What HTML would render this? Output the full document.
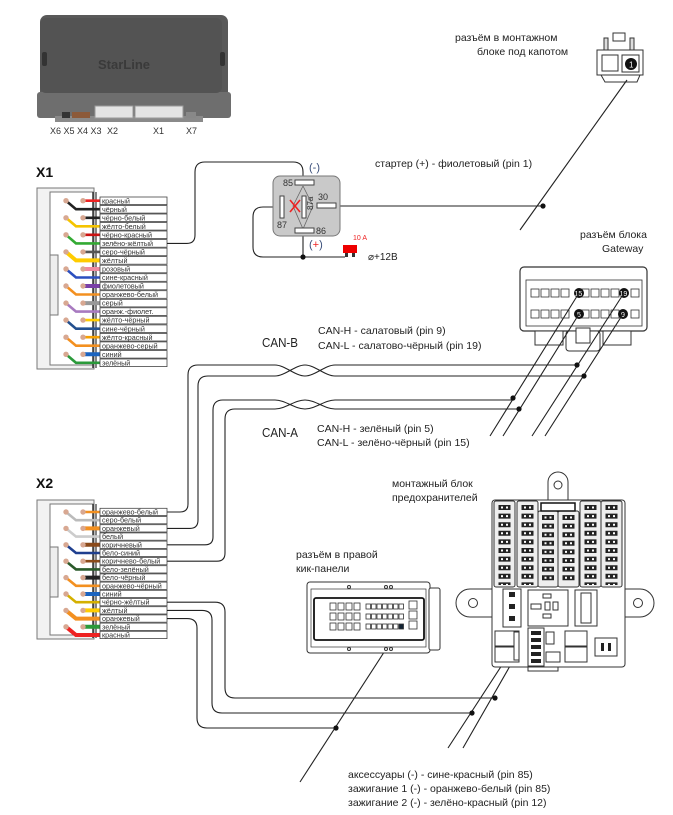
<!DOCTYPE html>
<html><head><meta charset="utf-8"><style>
html,body{margin:0;padding:0;background:#fff;}
svg{display:block;font-family:"Liberation Sans",sans-serif;}
.wl{font-size:7.2px;fill:#333;}
.lb{fill:#fff;stroke:#444;stroke-width:0.8;}
.w{fill:none;stroke:#222;stroke-width:1.1;}
.t{font-size:10.5px;fill:#222;}
.c{fill:#fff;stroke:#333;stroke-width:0.8;}
.fz{stroke:#222;stroke-width:12;stroke-dasharray:5 3.6;fill:none;}
.fd{stroke:#fff;stroke-width:2;stroke-dasharray:2 6.6;stroke-dashoffset:-1.5;fill:none;}
</style></head><body>
<svg width="673" height="815" viewBox="0 0 673 815" xmlns="http://www.w3.org/2000/svg">

<!-- Module -->
<rect x="40" y="15" width="188" height="85" rx="7" fill="#595959"/>
<rect x="37" y="92" width="194" height="26" rx="3" fill="#6e6e6e"/>
<rect x="40" y="18" width="182" height="75" rx="6" fill="#535353"/>
<rect x="42" y="52" width="5" height="14" rx="2" fill="#333"/>
<rect x="220" y="52" width="5" height="14" rx="2" fill="#333"/>
<text x="98" y="69" font-size="13" font-weight="bold" fill="#3a3a3a">StarLine</text>
<rect x="55" y="116" width="148" height="6" fill="#8a8a8a"/>
<rect x="95" y="106" width="38" height="12" fill="#e4e4e4" stroke="#999"/>
<rect x="135" y="106" width="48" height="12" fill="#e4e4e4" stroke="#999"/>
<rect x="186" y="112" width="10" height="6" fill="#888"/>
<rect x="72" y="112" width="18" height="6" fill="#8c5a3a"/>
<rect x="62" y="112" width="8" height="6" fill="#333"/>
<text x="50" y="134" font-size="9" fill="#333">X6 X5 X4 X3</text>
<text x="107" y="134" font-size="9" fill="#333">X2</text>
<text x="153" y="134" font-size="9" fill="#333">X1</text>
<text x="186" y="134" font-size="9" fill="#333">X7</text>

<!-- X1 -->
<text x="36" y="177" font-size="14" font-weight="bold" fill="#111">X1</text>
<rect x="37" y="188" width="57" height="181" fill="#f2f2f2" stroke="#777"/>
<rect x="50" y="192" width="43" height="173" fill="#fff" stroke="#777"/>
<rect x="50" y="255" width="8" height="60" fill="#eee" stroke="#777"/>
<line x1="93" y1="192" x2="93" y2="368" stroke="#333" stroke-width="1.5"/>
<line x1="96" y1="192" x2="96" y2="368" stroke="#333" stroke-width="1.2"/>
<g stroke-width="2.6" fill="none">
<path d="M83,200.7H100" stroke="#e22"/>
<path d="M66,200.7L76,209.2H100" stroke="#222"/>
<path d="M83,217.8H100" stroke="#222"/>
<path d="M66,217.8L76,226.3H100" stroke="#f5c400"/>
<path d="M83,234.8H100" stroke="#c11"/>
<path d="M66,234.8L76,243.4H100" stroke="#3a3"/>
<path d="M83,251.9H100" stroke="#555"/>
<path d="M66,251.9L76,260.4H100" stroke="#fc0" stroke-width="4"/>
<path d="M83,269H100" stroke="#f08aa0" stroke-width="4"/>
<path d="M66,269L76,277.5H100" stroke="#2c4fbf"/>
<path d="M83,286H100" stroke="#7a3fa8" stroke-width="4"/>
<path d="M66,286L76,294.5H100" stroke="#f39020"/>
<path d="M83,303.1H100" stroke="#999" stroke-width="4"/>
<path d="M66,303.1L76,311.6H100" stroke="#a87ac0"/>
<path d="M83,320.1H100" stroke="#fc0"/>
<path d="M66,320.1L76,328.7H100" stroke="#23508f"/>
<path d="M83,337.2H100" stroke="#f6a000"/>
<path d="M66,337.2L76,345.7H100" stroke="#f39020"/>
<path d="M83,354.3H100" stroke="#1a63c0" stroke-width="4"/>
<path d="M66,354.3L76,362.8H100" stroke="#2a9a3a"/>
</g>
<g fill="#d8a892">
<circle cx="66" cy="200.7" r="2.7"/><circle cx="83" cy="200.7" r="2.7"/>
<circle cx="66" cy="217.8" r="2.7"/><circle cx="83" cy="217.8" r="2.7"/>
<circle cx="66" cy="234.8" r="2.7"/><circle cx="83" cy="234.8" r="2.7"/>
<circle cx="66" cy="251.9" r="2.7"/><circle cx="83" cy="251.9" r="2.7"/>
<circle cx="66" cy="269" r="2.7"/><circle cx="83" cy="269" r="2.7"/>
<circle cx="66" cy="286" r="2.7"/><circle cx="83" cy="286" r="2.7"/>
<circle cx="66" cy="303.1" r="2.7"/><circle cx="83" cy="303.1" r="2.7"/>
<circle cx="66" cy="320.1" r="2.7"/><circle cx="83" cy="320.1" r="2.7"/>
<circle cx="66" cy="337.2" r="2.7"/><circle cx="83" cy="337.2" r="2.7"/>
<circle cx="66" cy="354.3" r="2.7"/><circle cx="83" cy="354.3" r="2.7"/>
</g>
<g>
<rect class="lb" x="100" y="197" width="67" height="7.6"/><text class="wl" x="102" y="203.3">красный</text>
<rect class="lb" x="100" y="205.5" width="67" height="7.6"/><text class="wl" x="102" y="211.8">чёрный</text>
<rect class="lb" x="100" y="214" width="67" height="7.6"/><text class="wl" x="102" y="220.4">чёрно-белый</text>
<rect class="lb" x="100" y="222.5" width="67" height="7.6"/><text class="wl" x="102" y="228.9">жёлто-белый</text>
<rect class="lb" x="100" y="231" width="67" height="7.6"/><text class="wl" x="102" y="237.4">чёрно-красный</text>
<rect class="lb" x="100" y="239.6" width="67" height="7.6"/><text class="wl" x="102" y="246">зелёно-жёлтый</text>
<rect class="lb" x="100" y="248.1" width="67" height="7.6"/><text class="wl" x="102" y="254.5">серо-чёрный</text>
<rect class="lb" x="100" y="256.6" width="67" height="7.6"/><text class="wl" x="102" y="263">жёлтый</text>
<rect class="lb" x="100" y="265.2" width="67" height="7.6"/><text class="wl" x="102" y="271.6">розовый</text>
<rect class="lb" x="100" y="273.7" width="67" height="7.6"/><text class="wl" x="102" y="280.1">сине-красный</text>
<rect class="lb" x="100" y="282.2" width="67" height="7.6"/><text class="wl" x="102" y="288.6">фиолетовый</text>
<rect class="lb" x="100" y="290.7" width="67" height="7.6"/><text class="wl" x="102" y="297.1">оранжево-белый</text>
<rect class="lb" x="100" y="299.3" width="67" height="7.6"/><text class="wl" x="102" y="305.7">серый</text>
<rect class="lb" x="100" y="307.8" width="67" height="7.6"/><text class="wl" x="102" y="314.2">оранж.-фиолет.</text>
<rect class="lb" x="100" y="316.3" width="67" height="7.6"/><text class="wl" x="102" y="322.7">жёлто-чёрный</text>
<rect class="lb" x="100" y="324.9" width="67" height="7.6"/><text class="wl" x="102" y="331.3">сине-чёрный</text>
<rect class="lb" x="100" y="333.4" width="67" height="7.6"/><text class="wl" x="102" y="339.8">жёлто-красный</text>
<rect class="lb" x="100" y="341.9" width="67" height="7.6"/><text class="wl" x="102" y="348.3">оранжево-серый</text>
<rect class="lb" x="100" y="350.5" width="67" height="7.6"/><text class="wl" x="102" y="356.9">синий</text>
<rect class="lb" x="100" y="359" width="67" height="7.6"/><text class="wl" x="102" y="365.4">зелёный</text>
</g>

<!-- Relay wiring -->
<path class="w" d="M167,243.4H187Q195,243.4 195,235V172Q195,162 205,162H293Q303,162 303,172V182"/>
<path class="w" d="M282,207H263Q253,207 253,217V247Q253,257 263,257H345"/>
<path class="w" d="M303,236V257"/>
<circle cx="303" cy="257" r="2.6" fill="#111"/>
<path class="w" d="M340,206H543"/>
<circle cx="543" cy="206" r="2.6" fill="#111"/>
<rect x="273" y="176" width="67" height="60" rx="7" fill="#c9c9c9" stroke="#777"/>
<path d="M303,186L293,206L303,229M303,186L313,206L303,229" fill="none" stroke="#666" stroke-width="0.8"/>
<rect x="295" y="180" width="19" height="5" fill="#fff" stroke="#444"/>
<rect x="280" y="196" width="4" height="22" fill="#fff" stroke="#444"/>
<rect x="302" y="196" width="4" height="22" fill="#fff" stroke="#444"/>
<rect x="317" y="203" width="19" height="5" fill="#fff" stroke="#444"/>
<rect x="295" y="228" width="19" height="5" fill="#fff" stroke="#444"/>
<path d="M290,200L300,212M300,200L290,212" stroke="#e22" stroke-width="1.6"/>
<text x="283" y="186" font-size="9" fill="#333">85</text>
<text x="318" y="200" font-size="9" fill="#333">30</text>
<text x="277" y="228" font-size="9" fill="#333">87</text>
<text x="316" y="234" font-size="9" fill="#333">86</text>
<text x="313" y="210" font-size="8" fill="#333" transform="rotate(-90 313 210)">87a</text>
<text x="309" y="171" font-size="11" fill="#3a4e7a">(-)</text>
<text x="309" y="248" font-size="11" fill="#3a4e7a">(<tspan fill="#e22">+</tspan>)</text>
<rect x="343" y="245" width="14" height="8" fill="#e00"/>
<rect x="345" y="253" width="3" height="4" fill="#333"/><rect x="352" y="253" width="3" height="4" fill="#333"/>
<text x="353" y="240" font-size="7" fill="#e22">10 A</text>
<text x="368" y="260" font-size="10" fill="#222">⌀+12В</text>
<text class="t" x="375" y="167">стартер (+) - фиолетовый (pin 1)</text>

<!-- top right connector -->
<text class="t" x="455" y="41">разъём в монтажном</text>
<text class="t" x="477" y="55">блоке под капотом</text>
<rect x="613" y="33" width="12" height="8" fill="#fff" stroke="#333"/>
<rect x="604" y="38" width="4" height="14" fill="#ddd" stroke="#333"/>
<rect x="630" y="38" width="4" height="14" fill="#ddd" stroke="#333"/>
<rect x="597" y="50" width="46" height="25" fill="#fff" stroke="#333"/>
<rect x="602" y="55" width="16" height="16" fill="#fff" stroke="#333"/>
<rect x="622" y="55" width="17" height="17" fill="#fff" stroke="#333"/>
<circle cx="631" cy="64" r="6" fill="#111"/>
<text x="629" y="67.5" font-size="8" fill="#fff">1</text>
<path d="M601,75L605,82H637L640,75" fill="none" stroke="#333"/>
<path class="w" d="M627,80L520,230"/>

<!-- Gateway -->
<text class="t" x="580" y="238">разъём блока</text>
<text class="t" x="602" y="252">Gateway</text>
<rect x="520" y="267" width="127" height="64" rx="4" fill="#fff" stroke="#333" stroke-width="1.2"/>
<rect x="526" y="280" width="116" height="46" fill="#fff" stroke="#333" stroke-width="0.8"/>
<g class="c">
<rect x="531" y="289" width="8" height="8"/><rect x="541" y="289" width="8" height="8"/><rect x="551" y="289" width="8" height="8"/><rect x="561" y="289" width="8" height="8"/><rect x="581" y="289" width="8" height="8"/><rect x="591" y="289" width="8" height="8"/><rect x="601" y="289" width="8" height="8"/><rect x="611" y="289" width="8" height="8"/><rect x="631" y="289" width="8" height="8"/>
<rect x="531" y="310" width="8" height="8"/><rect x="541" y="310" width="8" height="8"/><rect x="551" y="310" width="8" height="8"/><rect x="561" y="310" width="8" height="8"/><rect x="581" y="310" width="8" height="8"/><rect x="591" y="310" width="8" height="8"/><rect x="601" y="310" width="8" height="8"/><rect x="611" y="310" width="8" height="8"/><rect x="631" y="310" width="8" height="8"/>
</g>
<circle cx="579" cy="293" r="5" fill="#111"/><text x="574.5" y="296" font-size="7" fill="#fff">15</text>
<circle cx="624" cy="293" r="5" fill="#111"/><text x="619.5" y="296" font-size="7" fill="#fff">19</text>
<circle cx="579" cy="314" r="5" fill="#111"/><text x="577" y="317" font-size="7" fill="#fff">5</text>
<circle cx="623" cy="314" r="5" fill="#111"/><text x="621" y="317" font-size="7" fill="#fff">9</text>
<rect x="535" y="331" width="28" height="14" fill="#fff" stroke="#333"/>
<rect x="603" y="331" width="28" height="14" fill="#fff" stroke="#333"/>
<rect x="566" y="331" width="34" height="20" rx="3" fill="#fff" stroke="#333"/>
<rect x="576" y="328" width="14" height="15" fill="#fff" stroke="#333"/>
<path class="w" d="M579,293L490,436M579,314L503,436M624,293L532,436M623,314L545,436"/>

<!-- CAN labels -->
<text x="262" y="347" font-size="13" fill="#222" textLength="36" lengthAdjust="spacingAndGlyphs">CAN-B</text>
<text class="t" x="318" y="334">CAN-H - салатовый (pin 9)</text>
<text class="t" x="318" y="349">CAN-L - салатово-чёрный (pin 19)</text>
<text x="262" y="437" font-size="13" fill="#222" textLength="36" lengthAdjust="spacingAndGlyphs">CAN-A</text>
<text class="t" x="317" y="432">CAN-H - зелёный (pin 5)</text>
<text class="t" x="317" y="446">CAN-L - зелёно-чёрный (pin 15)</text>

<!-- CAN wires -->
<path class="w" d="M167,512H180Q188,512 188,504V375Q188,365 198,365H275C285,365 295,376 305,376C315,376 325,365 335,365H577"/>
<path class="w" d="M167,528.4H190Q198,528.4 198,520V386Q198,376 208,376H275C285,376 295,365 305,365C315,365 325,376 335,376H585"/>
<path class="w" d="M167,544.8H205Q213,544.8 213,537V410Q213,400 223,400H275C285,400 295,409 305,409C315,409 325,400 335,400H512"/>
<path class="w" d="M167,561.2H217Q225,561.2 225,553V419Q225,409 235,409H275C285,409 295,400 305,400C315,400 325,409 335,409H520"/>
<circle cx="577" cy="365" r="2.6" fill="#111"/><circle cx="584" cy="376" r="2.6" fill="#111"/>
<circle cx="513" cy="398" r="2.6" fill="#111"/><circle cx="519" cy="409" r="2.6" fill="#111"/>

<!-- X2 -->
<text x="36" y="488" font-size="14" font-weight="bold" fill="#111">X2</text>
<rect x="37" y="500" width="57" height="139" fill="#f2f2f2" stroke="#777"/>
<rect x="50" y="504" width="43" height="131" fill="#fff" stroke="#777"/>
<rect x="50" y="547" width="8" height="50" fill="#eee" stroke="#777"/>
<line x1="93" y1="504" x2="93" y2="638" stroke="#333" stroke-width="1.5"/>
<line x1="96" y1="504" x2="96" y2="638" stroke="#333" stroke-width="1.2"/>
<g stroke-width="2.6" fill="none">
<path d="M83,512H100" stroke="#f39020"/>
<path d="M66,512L76,520.2H100" stroke="#bbb"/>
<path d="M83,528.4H100" stroke="#f39020" stroke-width="4"/>
<path d="M66,528.4L76,536.6H100" stroke="#ccc"/>
<path d="M83,544.8H100" stroke="#8b4a1a" stroke-width="4"/>
<path d="M66,544.8L76,553H100" stroke="#1f3f8f"/>
<path d="M83,561.2H100" stroke="#8b4a1a"/>
<path d="M66,561.2L76,569.4H100" stroke="#2a5a2a"/>
<path d="M83,577.6H100" stroke="#222" stroke-width="4"/>
<path d="M66,577.6L76,585.8H100" stroke="#f39020"/>
<path d="M83,594H100" stroke="#1a63c0" stroke-width="4"/>
<path d="M66,594L76,602.2H100" stroke="#d4b000"/>
<path d="M83,610.4H100" stroke="#fc0" stroke-width="4"/>
<path d="M66,610.4L76,618.6H100" stroke="#f39020" stroke-width="4"/>
<path d="M83,626.8H100" stroke="#2a9a3a" stroke-width="4"/>
<path d="M66,626.8L76,635H100" stroke="#e22" stroke-width="4"/>
</g>
<g fill="#d8a892">
<circle cx="66" cy="512" r="2.7"/><circle cx="83" cy="512" r="2.7"/>
<circle cx="66" cy="528.4" r="2.7"/><circle cx="83" cy="528.4" r="2.7"/>
<circle cx="66" cy="544.8" r="2.7"/><circle cx="83" cy="544.8" r="2.7"/>
<circle cx="66" cy="561.2" r="2.7"/><circle cx="83" cy="561.2" r="2.7"/>
<circle cx="66" cy="577.6" r="2.7"/><circle cx="83" cy="577.6" r="2.7"/>
<circle cx="66" cy="594" r="2.7"/><circle cx="83" cy="594" r="2.7"/>
<circle cx="66" cy="610.4" r="2.7"/><circle cx="83" cy="610.4" r="2.7"/>
<circle cx="66" cy="626.8" r="2.7"/><circle cx="83" cy="626.8" r="2.7"/>
</g>
<g>
<rect class="lb" x="100" y="508.3" width="67" height="7.3"/><text class="wl" x="102" y="514.5">оранжево-белый</text>
<rect class="lb" x="100" y="516.5" width="67" height="7.3"/><text class="wl" x="102" y="522.7">серо-белый</text>
<rect class="lb" x="100" y="524.7" width="67" height="7.3"/><text class="wl" x="102" y="530.9">оранжевый</text>
<rect class="lb" x="100" y="532.9" width="67" height="7.3"/><text class="wl" x="102" y="539.1">белый</text>
<rect class="lb" x="100" y="541.1" width="67" height="7.3"/><text class="wl" x="102" y="547.3">коричневый</text>
<rect class="lb" x="100" y="549.3" width="67" height="7.3"/><text class="wl" x="102" y="555.5">бело-синий</text>
<rect class="lb" x="100" y="557.5" width="67" height="7.3"/><text class="wl" x="102" y="563.7">коричнево-белый</text>
<rect class="lb" x="100" y="565.7" width="67" height="7.3"/><text class="wl" x="102" y="571.9">бело-зелёный</text>
<rect class="lb" x="100" y="573.9" width="67" height="7.3"/><text class="wl" x="102" y="580.1">бело-чёрный</text>
<rect class="lb" x="100" y="582.1" width="67" height="7.3"/><text class="wl" x="102" y="588.3">оранжево-чёрный</text>
<rect class="lb" x="100" y="590.3" width="67" height="7.3"/><text class="wl" x="102" y="596.5">синий</text>
<rect class="lb" x="100" y="598.5" width="67" height="7.3"/><text class="wl" x="102" y="604.7">чёрно-жёлтый</text>
<rect class="lb" x="100" y="606.7" width="67" height="7.3"/><text class="wl" x="102" y="612.9">жёлтый</text>
<rect class="lb" x="100" y="614.9" width="67" height="7.3"/><text class="wl" x="102" y="621.1">оранжевый</text>
<rect class="lb" x="100" y="623.1" width="67" height="7.3"/><text class="wl" x="102" y="629.3">зелёный</text>
<rect class="lb" x="100" y="631.3" width="67" height="7.3"/><text class="wl" x="102" y="637.5">красный</text>
</g>

<!-- bottom wires -->
<path class="w" d="M167,602.2H215Q225,602.2 225,612V688Q225,698 235,698H495"/>
<path class="w" d="M167,610.4H202Q212,610.4 212,620V703Q212,713 222,713H472"/>
<path class="w" d="M167,618.6H187Q197,618.6 197,628V718Q197,728 207,728H337"/>
<path class="w" d="M401,626L300,782"/>
<path class="w" d="M515,645L448,748M518,652L463,748"/>
<circle cx="495" cy="698" r="2.6" fill="#111"/><circle cx="472" cy="713" r="2.6" fill="#111"/><circle cx="336" cy="728" r="2.6" fill="#111"/>

<!-- kick panel connector -->
<text class="t" x="296" y="558">разъём в правой</text>
<text class="t" x="296" y="572">кик-панели</text>
<rect x="307" y="582" width="123" height="71" rx="3" fill="#fff" stroke="#333"/>
<rect x="429" y="588" width="11" height="62" rx="2" fill="#fff" stroke="#333"/>
<rect x="311" y="589" width="115" height="58" fill="#fff" stroke="#333" stroke-width="0.7"/>
<rect x="314" y="598" width="110" height="42" rx="2" fill="#fff" stroke="#111" stroke-width="1.8"/>
<g class="c">
<rect x="330" y="603" width="6" height="7"/><rect x="338" y="603" width="6" height="7"/><rect x="346" y="603" width="6" height="7"/><rect x="354" y="603" width="6" height="7"/>
<rect x="330" y="613" width="6" height="7"/><rect x="338" y="613" width="6" height="7"/><rect x="346" y="613" width="6" height="7"/><rect x="354" y="613" width="6" height="7"/>
<rect x="330" y="623" width="6" height="7"/><rect x="338" y="623" width="6" height="7"/><rect x="346" y="623" width="6" height="7"/><rect x="354" y="623" width="6" height="7"/>
<rect x="366" y="604" width="4.5" height="5"/><rect x="371.5" y="604" width="4.5" height="5"/><rect x="377" y="604" width="4.5" height="5"/><rect x="382.5" y="604" width="4.5" height="5"/><rect x="388" y="604" width="4.5" height="5"/><rect x="393.5" y="604" width="4.5" height="5"/><rect x="399" y="604" width="4.5" height="5"/>
<rect x="366" y="614" width="4.5" height="5"/><rect x="371.5" y="614" width="4.5" height="5"/><rect x="377" y="614" width="4.5" height="5"/><rect x="382.5" y="614" width="4.5" height="5"/><rect x="388" y="614" width="4.5" height="5"/><rect x="393.5" y="614" width="4.5" height="5"/><rect x="399" y="614" width="4.5" height="5"/>
<rect x="366" y="624" width="4.5" height="5"/><rect x="371.5" y="624" width="4.5" height="5"/><rect x="377" y="624" width="4.5" height="5"/><rect x="382.5" y="624" width="4.5" height="5"/><rect x="388" y="624" width="4.5" height="5"/><rect x="393.5" y="624" width="4.5" height="5"/><rect x="399" y="624" width="4.5" height="5" fill="#123"/>
<rect x="409" y="601" width="8" height="8"/><rect x="409" y="611" width="8" height="8"/><rect x="409" y="621" width="8" height="8"/>
</g>
<circle cx="349" cy="587" r="1.5" fill="none" stroke="#333"/><circle cx="386" cy="587" r="1.5" fill="none" stroke="#333"/><circle cx="391" cy="587" r="1.5" fill="none" stroke="#333"/>
<circle cx="349" cy="649" r="1.5" fill="none" stroke="#333"/><circle cx="386" cy="649" r="1.5" fill="none" stroke="#333"/><circle cx="391" cy="649" r="1.5" fill="none" stroke="#333"/>

<!-- fuse block -->
<text class="t" x="392" y="487">монтажный блок</text>
<text class="t" x="392" y="501">предохранителей</text>
<path d="M548,500V482A10,10 0 0 1 568,482V500" fill="#fff" stroke="#333"/>
<circle cx="558" cy="485" r="4" fill="none" stroke="#333"/>
<path d="M498,589H470A14,14 0 0 0 470,617H498Z" fill="#fff" stroke="#333"/>
<circle cx="473" cy="603" r="4.5" fill="none" stroke="#333"/>
<path d="M620,589H640A14,14 0 0 1 640,617H620Z" fill="#fff" stroke="#333"/>
<circle cx="638" cy="603" r="4.5" fill="none" stroke="#333"/>
<rect x="492" y="500" width="133" height="167" rx="3" fill="#fff" stroke="#333"/>
<rect x="494" y="501" width="21" height="86" rx="2" fill="#eee" stroke="#333"/>
<rect x="517" y="501" width="21" height="86" rx="2" fill="#eee" stroke="#333"/>
<rect x="538" y="511" width="20" height="76" rx="2" fill="#eee" stroke="#333"/>
<rect x="558" y="511" width="21" height="76" rx="2" fill="#eee" stroke="#333"/>
<rect x="580" y="501" width="21" height="86" rx="2" fill="#eee" stroke="#333"/>
<rect x="601" y="501" width="21" height="86" rx="2" fill="#eee" stroke="#333"/>
<path class="fz" d="M504.5,505V585M527.5,505V585M548,515V583M568.5,515V583M590.5,505V585M611.5,505V585"/>
<path class="fd" d="M502,505V585M507,505V585M525,505V585M530,505V585M545.5,515V583M550.5,515V583M566,515V583M571,515V583M588,505V585M593,505V585M609,505V585M614,505V585"/>
<rect x="541" y="503" width="34" height="8" fill="#fff" stroke="#111" stroke-width="1.5"/>
<rect x="503" y="589" width="18" height="38" fill="#fff" stroke="#333"/>
<rect x="509" y="592" width="6" height="5" fill="#222"/><rect x="509" y="604" width="6" height="5" fill="#222"/><rect x="509" y="616" width="6" height="5" fill="#222"/>
<rect x="528" y="590" width="40" height="36" fill="#fff" stroke="#333"/>
<rect x="543" y="594" width="8" height="4" fill="#fff" stroke="#333"/><rect x="531" y="604" width="10" height="5" fill="#fff" stroke="#333"/>
<rect x="545" y="602" width="5" height="8" fill="#fff" stroke="#333"/><rect x="553" y="602" width="5" height="8" fill="#fff" stroke="#333"/>
<rect x="543" y="614" width="8" height="4" fill="#fff" stroke="#333"/>
<rect x="575" y="590" width="22" height="36" fill="#fff" stroke="#333"/>
<rect x="581" y="593" width="10" height="30" fill="#fff" stroke="#333"/>
<rect x="495" y="631" width="24" height="15" fill="#fff" stroke="#333"/>
<rect x="495" y="647" width="24" height="15" fill="#fff" stroke="#333"/>
<rect x="514" y="632" width="5" height="28" fill="#fff" stroke="#333"/>
<rect x="528" y="628" width="16" height="38" fill="#fff" stroke="#333"/>
<rect x="531" y="631" width="10" height="4" fill="#222"/><rect x="531" y="638" width="10" height="4" fill="#222"/><rect x="531" y="645" width="10" height="4" fill="#222"/><rect x="531" y="652" width="10" height="4" fill="#222"/><rect x="531" y="659" width="10" height="4" fill="#222"/>
<rect x="546" y="632" width="8" height="12" fill="#fff" stroke="#333"/>
<rect x="546" y="652" width="14" height="10" fill="#fff" stroke="#333"/>
<rect x="565" y="631" width="22" height="15" fill="#fff" stroke="#333"/>
<rect x="565" y="647" width="22" height="15" fill="#fff" stroke="#333"/>
<rect x="595" y="638" width="22" height="18" fill="#fff" stroke="#333"/>
<rect x="601" y="643" width="3" height="8" fill="#222"/><rect x="608" y="643" width="3" height="8" fill="#222"/>
<path d="M528,667v4h30v-4" fill="none" stroke="#333"/>

<text class="t" x="348" y="778">аксессуары  (-) - сине-красный (pin 85)</text>
<text class="t" x="348" y="792">зажигание 1 (-) - оранжево-белый (pin 85)</text>
<text class="t" x="348" y="806">зажигание 2 (-) - зелёно-красный (pin 12)</text>
</svg>
</body></html>
